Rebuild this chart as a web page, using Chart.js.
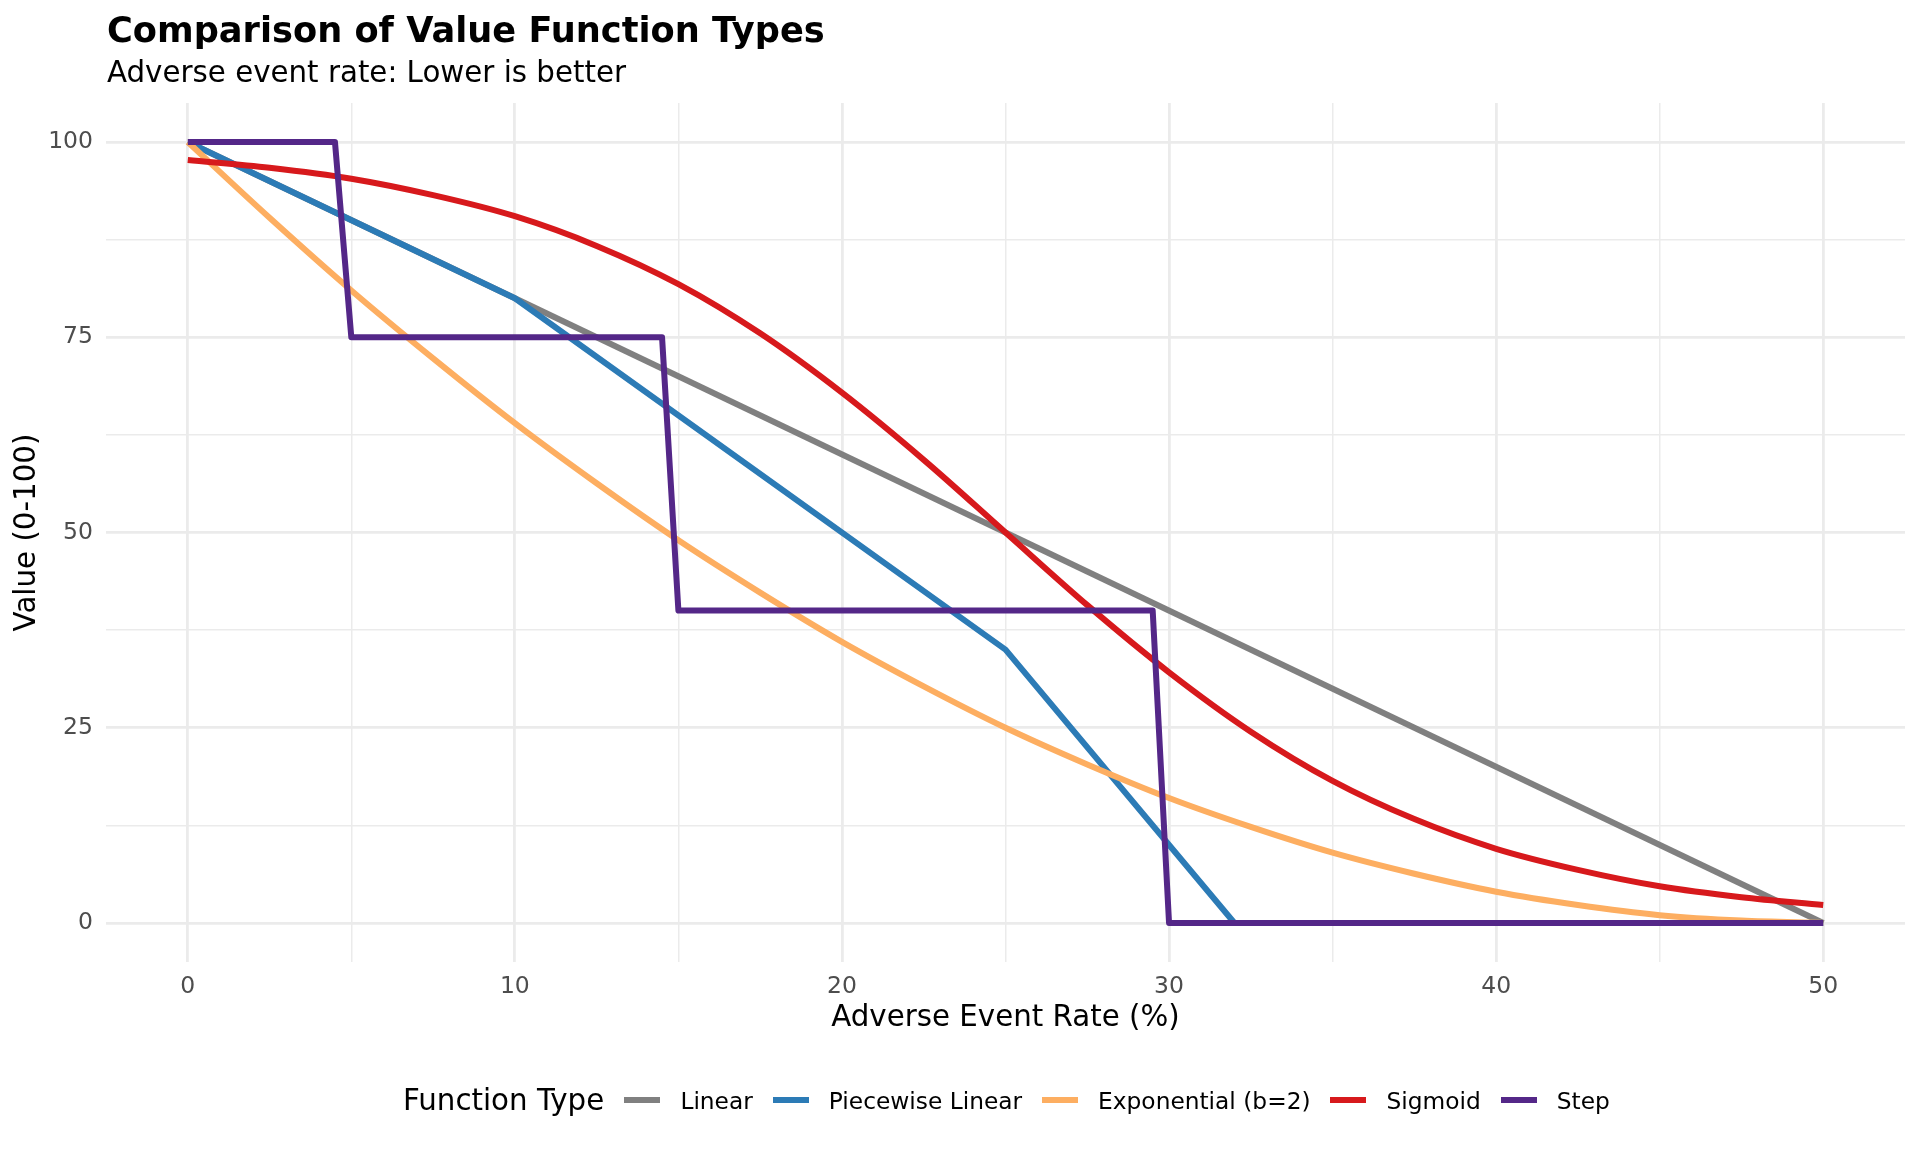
<!DOCTYPE html>
<html>
<head>
<meta charset="utf-8">
<script src="https://cdn.jsdelivr.net/npm/chart.js@4.4.1/dist/chart.umd.min.js"></script>
<style>
  html, body { margin: 0; padding: 0; background: #ffffff; }
  #wrap { position: relative; width: 1920px; height: 1152px; overflow: hidden; font-family: "DejaVu Sans", sans-serif; }
  #c { position: absolute; left: 0; top: 0; }
  #title { position: absolute; left: 107px; top: 12px; font-size: 35.2px; line-height: 35.2px; font-weight: bold; color: #000; white-space: nowrap; }
  #subtitle { position: absolute; left: 107px; top: 58px; font-size: 29.3px; line-height: 29.3px; color: #000; white-space: nowrap; }
  #legend { position: absolute; left: 403px; top: 1080px; height: 40px; display: flex; align-items: center; white-space: nowrap; }
  #legend .ltitle { font-size: 29.3px; color: #000; margin-right: 20px; }
  #legend .key { width: 36px; height: 6px; margin-right: 20.2px; }
  #legend .lab { font-size: 23.3px; color: #000; margin-right: 19.8px; }
</style>
</head>
<body>
<div id="wrap">
  <canvas id="c" width="1920" height="1152"></canvas>
  <div id="title">Comparison of Value Function Types</div>
  <div id="subtitle">Adverse event rate: Lower is better</div>
  <div id="legend"></div>
</div>
<script>
// ---- data ----
const seriesNames = ["Linear", "Piecewise Linear", "Exponential (b=2)", "Sigmoid", "Step"];
const seriesColors = ["#808080", "#2C7BB6", "#FDAE61", "#D7191C", "#542788"];

const linearX = [0, 50];
const linearY = [100, 0];

const piecewiseX = [0, 10, 25, 32, 50];
const piecewiseY = [100, 80, 35, 0, 0];

const curveX = [0, 2.5, 5, 7.5, 10, 12.5, 15, 17.5, 20, 22.5, 25, 27.5, 30, 32.5, 35, 37.5, 40, 42.5, 45, 47.5, 50];
const exponentialY = [100, 90.3, 81, 72.3, 64, 56.3, 49, 42.3, 36, 30.3, 25, 20.3, 16, 12.3, 9, 6.3, 4, 2.3, 1, 0.3, 0];
const sigmoidY = [97.7, 96.7, 95.3, 93.2, 90.5, 86.7, 81.8, 75.5, 67.9, 59.3, 50, 40.7, 32.1, 24.5, 18.2, 13.3, 9.5, 6.8, 4.7, 3.3, 2.3];

const stepX = [0, 4.5, 5, 14.5, 15, 29.5, 30, 50];
const stepY = [100, 100, 75, 75, 40, 40, 0, 0];

const xTicks = [0, 5, 10, 15, 20, 25, 30, 35, 40, 45, 50];
const xLabelTicks = [0, 10, 20, 30, 40, 50];
const yTicks = [0, 12.5, 25, 37.5, 50, 62.5, 75, 87.5, 100];
const yLabelTicks = [0, 25, 50, 75, 100];

const xTitle = "Adverse Event Rate (%)";
const yTitle = "Value (0-100)";
const legendTitle = "Function Type";

// ---- build ----
function pts(xs, ys) { return xs.map((x, i) => ({ x: x, y: ys[i] })); }
const seriesPoints = [
  pts(linearX, linearY),
  pts(piecewiseX, piecewiseY),
  pts(curveX, exponentialY),
  pts(curveX, sigmoidY),
  pts(stepX, stepY)
];
const smooth = [false, false, true, true, false];

const datasets = seriesNames.map((name, i) => ({
  label: name,
  data: seriesPoints[i],
  borderColor: seriesColors[i],
  backgroundColor: seriesColors[i],
  borderWidth: 6,
  pointRadius: 0,
  pointHoverRadius: 0,
  fill: false,
  tension: 0,
  cubicInterpolationMode: smooth[i] ? 'monotone' : 'default',
  borderJoinStyle: 'round',
  borderCapStyle: 'butt',
  order: seriesNames.length - i
}));

Chart.defaults.font.family = '"DejaVu Sans", sans-serif';

new Chart(document.getElementById('c'), {
  type: 'line',
  data: { datasets: datasets },
  options: {
    responsive: false,
    animation: false,
    devicePixelRatio: 1,
    layout: { padding: { top: 103, right: 15, bottom: 116.4, left: 0 } },
    plugins: { legend: { display: false }, title: { display: false }, tooltip: { enabled: false } },
    scales: {
      x: {
        type: 'linear',
        min: -2.5, max: 52.5,
        afterBuildTicks: (s) => { s.ticks = xTicks.map(v => ({ value: v })); },
        afterFit: (s) => { s.height = 73.6; },
        ticks: {
          autoSkip: false, maxRotation: 0, padding: 11,
          color: '#4D4D4D', font: { size: 23.5 },
          callback: (v) => xLabelTicks.includes(v) ? String(v) : ''
        },
        grid: {
          drawTicks: false,
          color: '#EBEBEB',
          lineWidth: (ctx) => (ctx.tick && xLabelTicks.includes(ctx.tick.value)) ? 2.8 : 1.5
        },
        border: { display: false },
        title: { display: true, text: xTitle, color: '#000', font: { size: 29.3 }, padding: { top: 0, bottom: 0 } }
      },
      y: {
        type: 'linear',
        min: -5, max: 105,
        afterBuildTicks: (s) => { s.ticks = yTicks.map(v => ({ value: v })); },
        afterFit: (s) => { s.width = 106; },
        ticks: {
          autoSkip: false, padding: 13,
          color: '#4D4D4D', font: { size: 23.5 },
          callback: (v) => yLabelTicks.includes(v) ? String(v) : ''
        },
        grid: {
          drawTicks: false,
          color: '#EBEBEB',
          lineWidth: (ctx) => (ctx.tick && yLabelTicks.includes(ctx.tick.value)) ? 2.8 : 1.5
        },
        border: { display: false },
        title: { display: true, text: yTitle, color: '#000', font: { size: 29.3 }, padding: { top: 9.5, bottom: 0 } }
      }
    }
  }
});

// ---- HTML legend (ggplot-style, title inline) ----
const lg = document.getElementById('legend');
const t = document.createElement('span'); t.className = 'ltitle'; t.textContent = legendTitle; lg.appendChild(t);
seriesNames.forEach((n, i) => {
  const k = document.createElement('span'); k.className = 'key'; k.style.background = seriesColors[i]; lg.appendChild(k);
  const l = document.createElement('span'); l.className = 'lab'; l.textContent = n; lg.appendChild(l);
});
</script>
</body>
</html>
